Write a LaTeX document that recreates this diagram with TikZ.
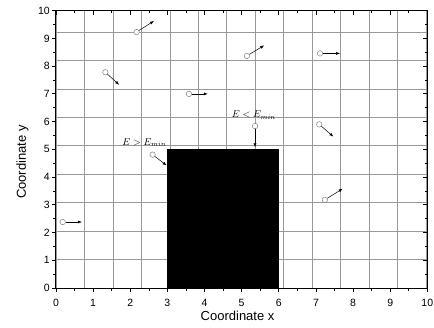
\documentclass[tikz,border=0pt]{standalone}
\usepackage{fontspec}
\setsansfont{Liberation Sans}
\usetikzlibrary{arrows.meta}

\begin{document}
\begin{tikzpicture}[x=37.13pt,y=27.73pt,
    particle/.style={circle,draw=gray,fill=white,inner sep=0pt,minimum size=5.5pt,line width=0.5pt},
    move/.style={-{Latex[length=4pt,width=3pt]},line width=0.5pt},
    ticklab/.style={font=\sffamily\fontsize{10.5}{12}\selectfont,inner sep=1pt},
    axlab/.style={font=\sffamily\fontsize{13}{15}\selectfont}]
        \useasboundingbox (-1.508,-1.406) rectangle (10.18,10.386);

        % grid and obstacle
        \draw[gray!80,line width=0.6pt] (0,0) grid (10,10);
        \fill[black] (3,0) rectangle (6,5);
        \draw[line width=1pt] (0,0) rectangle (10,10);

        % ticks and tick labels
        \foreach \i in {0,...,10} {
          \draw[line width=0.8pt] (\i,0) -- ++(0,-4pt);
          \draw[line width=0.8pt] (\i,10) -- ++(0,-4pt);
          \draw[line width=0.8pt] (0,\i) -- ++(-4pt,0);
          \draw[line width=0.8pt] (10,\i) -- ++(-4pt,0);
          \node[ticklab,anchor=north] (xt\i) at ([yshift=-10pt]\i,0) {\i};
          \node[ticklab,anchor=east] (yt\i) at ([xshift=-5pt]0,\i) {\i};
        }
        \foreach \i in {0.5,1.5,...,9.5} {
          \draw[line width=0.6pt] (\i,0) -- ++(0,-2.5pt);
          \draw[line width=0.6pt] (\i,10) -- ++(0,-2.5pt);
          \draw[line width=0.6pt] (0,\i) -- ++(-2.5pt,0);
          \draw[line width=0.6pt] (10,\i) -- ++(-2.5pt,0);
        }

        \node[axlab] (xlab) at (4.89,-1.01) {Coordinate x};
        \node[axlab,rotate=90] (ylab) at (-0.90,4.54) {Coordinate y};

        % particles
        \foreach \n/\x/\y/\u/\v in {p1/2.17/9.23/2.64/9.63, p2/1.33/7.78/1.70/7.33,
            p3/3.58/7.00/4.09/7.00, p4/2.60/4.81/2.98/4.42, p5/5.14/8.37/5.61/8.75,
            p6/7.11/8.46/7.65/8.46, p7/5.36/5.84/5.36/5.07, p8/7.09/5.90/7.47/5.46,
            p9/0.18/2.38/0.70/2.38, p10/7.24/3.18/7.72/3.58} {
          \node[particle] (\n) at (\x,\y) {};
          \coordinate (\n-tip) at (\u,\v);
          \draw[move] (\n) -- (\n-tip);
        }

        \node (above) at (2.38,5.24) {$E > E_{min}$};
        \node (below) at (5.33,6.24) {$E < E_{min}$};
\end{tikzpicture}
\end{document}
